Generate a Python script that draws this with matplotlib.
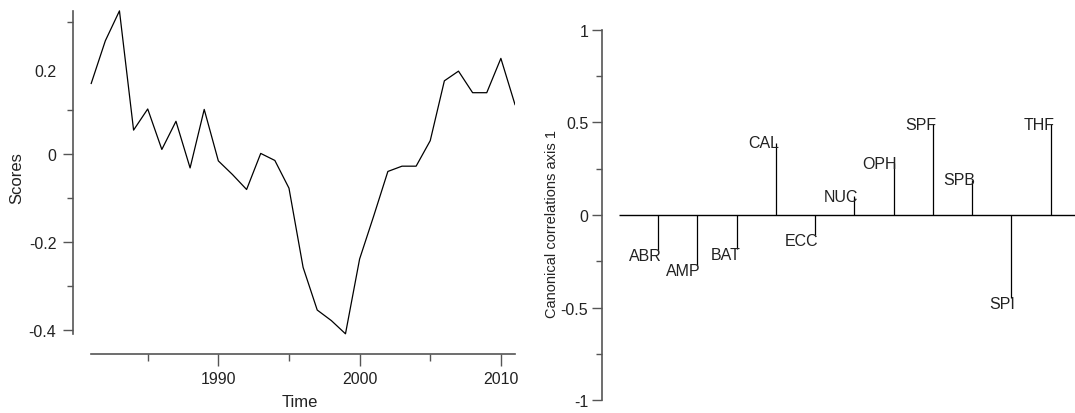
import matplotlib
matplotlib.use("Agg")
import matplotlib.pyplot as plt
from matplotlib.ticker import FixedLocator, NullFormatter

plt.rcParams["font.family"] = ["Liberation Sans Narrow", "Liberation Sans", "DejaVu Sans"]

# Scores per year (left panel)
years = list(range(1981, 2012))
scores = [0.161, 0.258, 0.326, 0.055, 0.103, 0.011, 0.075, -0.031, 0.102, -0.015,
          -0.046, -0.080, 0.002, -0.014, -0.077, -0.257, -0.354, -0.378, -0.408, -0.238,
          -0.140, -0.039, -0.027, -0.027, 0.031, 0.167, 0.189, 0.140, 0.140, 0.218,
          0.113]

# Canonical correlations (right panel)
taxa = ["ABR", "AMP", "BAT", "CAL", "ECC", "NUC", "OPH", "SPF", "SPB", "SPI", "THF"]
corr = [-0.19, -0.27, -0.185, 0.39, -0.107, 0.10, 0.28, 0.489, 0.19, -0.45, 0.489]

W, H = 1075, 414
fig = plt.figure(figsize=(W / 100, H / 100), dpi=100)

spine_col = "#555555"
txt_col = "#222222"
fs = 11.5

def box(l, t, r, b):
    return [l / W, 1 - b / H, (r - l) / W, (b - t) / H]

# ---------------- left panel ----------------
ax1 = fig.add_axes(box(72.7, 5, 515, 355))
ax1.plot(years, scores, color="black", lw=0.9)
ax1.set_xlim(1979.69, 2011)
ax1.set_ylim(-0.4539, 0.3416)
for s in ["top", "right"]:
    ax1.spines[s].set_visible(False)
for s in ["left", "bottom"]:
    ax1.spines[s].set_color(spine_col)
    ax1.spines[s].set_linewidth(1.2)
ax1.spines["left"].set_bounds(min(scores), max(scores))
ax1.spines["bottom"].set_bounds(years[0], years[-1])

ax1.set_xticks([1990, 2000, 2010])
ax1.xaxis.set_minor_locator(FixedLocator([1985, 1995, 2005]))
ax1.set_yticks([-0.4, -0.2, 0])
ax1.set_yticklabels(["-0.4", "-0.2", "0"])
ax1.yaxis.set_minor_locator(FixedLocator([-0.3, -0.1, 0.1, 0.3]))
ax1.yaxis.set_minor_formatter(NullFormatter())
ax1.tick_params(axis="x", which="major", length=8.5, width=1.0, color=spine_col,
                labelsize=fs, labelcolor=txt_col, pad=4)
ax1.tick_params(axis="x", which="minor", length=5, width=1.0, color=spine_col)
ax1.tick_params(axis="y", which="major", length=7.2, width=1.0, color=spine_col,
                labelsize=fs, labelcolor=txt_col, pad=4.5)
ax1.tick_params(axis="y", which="minor", length=4.3, width=1.0, color=spine_col)
ax1.annotate("0.2", xy=(0, 0.189), xycoords=("axes fraction", "data"),
             xytext=(-12, 0), textcoords="offset points", ha="right", va="center",
             fontsize=fs, color=txt_col)
ax1.set_xlabel("Time", fontsize=12, color=txt_col)
ax1.set_ylabel("Scores", fontsize=12, color=txt_col)
ax1.xaxis.set_label_coords((300 - 72.7) / 442.3, -0.115)
ax1.yaxis.set_label_coords((24 - 72.7) / 442.3, (355 - 178) / 350)

# ---------------- right panel ----------------
ax2 = fig.add_axes(box(602.3, 25, 1075, 407))
xs = list(range(1, len(taxa) + 1))
ax2.set_xlim(-0.425, 11.62)
ax2.set_ylim(-1.032, 1.032)
ax2.hlines(0, 0, 11.62, color="black", lw=1.0)
ax2.vlines(xs, 0, corr, color="black", lw=0.9)
for x, v, name in zip(xs, corr, taxa):
    dy = 0 if v > 0 else -4
    ax2.annotate(name, xy=(x, v), xytext=(2.5, dy), textcoords="offset points",
                 ha="right", va="center", fontsize=fs, color=txt_col)
for s in ["top", "right", "bottom"]:
    ax2.spines[s].set_visible(False)
ax2.spines["left"].set_color(spine_col)
ax2.spines["left"].set_linewidth(1.2)
ax2.spines["left"].set_bounds(-1, 1)
ax2.set_xticks([])
ax2.set_yticks([-1, -0.5, 0, 0.5, 1])
ax2.set_yticklabels(["-1", "-0.5", "0", "0.5", "1"])
ax2.yaxis.set_minor_locator(FixedLocator([-0.75, -0.25, 0.25, 0.75]))
ax2.yaxis.set_minor_formatter(NullFormatter())
ax2.tick_params(axis="y", which="major", length=7.2, width=1.0, color=spine_col,
                labelsize=fs, labelcolor=txt_col, pad=3)
ax2.tick_params(axis="y", which="minor", length=4.3, width=1.0, color=spine_col)
ax2.set_ylabel("Canonical correlations axis 1", fontsize=10.5, color=txt_col)
ax2.yaxis.set_label_coords((559 - 602.3) / 472.7, 0.48)

fig.savefig("out.png", dpi=100)
